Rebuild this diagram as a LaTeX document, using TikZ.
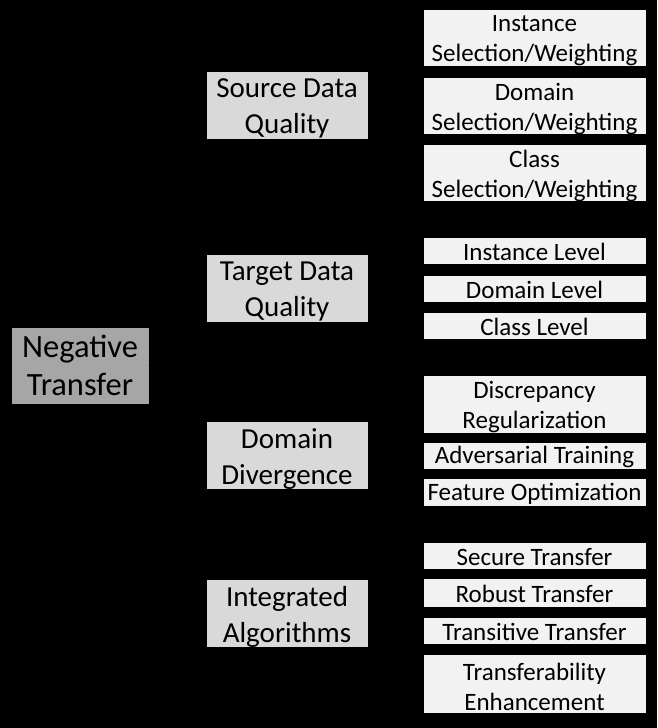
\documentclass[tikz,border=0pt]{standalone}
\usepackage{fontspec}
\setmainfont{Carlito}
\usetikzlibrary{arrows.meta}
\definecolor{rootfill}{HTML}{A6A6A6}
\definecolor{catfill}{HTML}{D9D9D9}
\definecolor{leaffill}{HTML}{F2F2F2}
\tikzset{
  rootbox/.style={fill=rootfill, draw=black, line width=0.6pt, inner sep=0pt, minimum width=138pt, minimum height=77pt, align=center, font=\fontsize{32.5}{38}\selectfont},
  catbox/.style={fill=catfill, draw=black, line width=0.6pt, inner sep=0pt, minimum width=162pt, minimum height=68pt},
  leafbox/.style={fill=leaffill, draw=black, line width=0.6pt, inner sep=0pt, minimum width=223pt},
  cattext/.style={align=center, inner sep=0pt, yshift=-3.5pt, font=\fontsize{29}{36}\selectfont},
  leaftwo/.style={align=center, inner sep=0pt, yshift=-3.5pt, font=\fontsize{25}{30}\selectfont},
  leafone/.style={align=center, inner sep=0pt, yshift=-1.5pt, font=\fontsize{25}{30}\selectfont},
  link/.style={draw=black, line width=1pt, -{Stealth[length=7pt]}}
}
\begin{document}
\begin{tikzpicture}[x=1pt,y=-1pt]
\fill[black] (0,0) rectangle (657,728);
\useasboundingbox (0,0) rectangle (657,728);

\node[rootbox] (nt) at (80,365.5) {Negative\\Transfer};

\node[catbox, label={[cattext]center:{Source Data\\Quality}}] (sdq) at (287,105) {};
\node[catbox, label={[cattext]center:{Target Data\\Quality}}] (tdq) at (287,288) {};
\node[catbox, label={[cattext]center:{Domain\\Divergence}}] (dd) at (287,455.5) {};
\node[catbox, label={[cattext]center:{Integrated\\Algorithms}}] (ia) at (287,613.5) {};

\node[leafbox, minimum height=57pt, label={[leaftwo]center:{Instance\\Selection/Weighting}}] (l1) at (534.5,37.5) {};
\node[leafbox, minimum height=57pt, label={[leaftwo]center:{Domain\\Selection/Weighting}}] (l2) at (534.5,105.5) {};
\node[leafbox, minimum height=57pt, label={[leaftwo]center:{Class\\Selection/Weighting}}] (l3) at (534.5,172.5) {};

\node[leafbox, minimum height=27pt, label={[leafone]center:{Instance Level}}] (l4) at (534.5,250.5) {};
\node[leafbox, minimum height=27pt, label={[leafone]center:{Domain Level}}] (l5) at (534.5,288.5) {};
\node[leafbox, minimum height=27pt, label={[leafone]center:{Class Level}}] (l6) at (534.5,325.5) {};

\node[leafbox, minimum height=58pt, label={[leaftwo]center:{Discrepancy\\Regularization}}] (l7) at (534.5,404) {};
\node[leafbox, minimum height=27pt, label={[leafone]center:{Adversarial Training}}] (l8) at (534.5,455.5) {};
\node[leafbox, minimum height=28pt, label={[leafone]center:{Feature Optimization}}] (l9) at (534.5,492) {};

\node[leafbox, minimum height=27pt, label={[leafone]center:{Secure Transfer}}] (l10) at (534.5,555.5) {};
\node[leafbox, minimum height=29pt, label={[leafone]center:{Robust Transfer}}] (l11) at (534.5,592.5) {};
\node[leafbox, minimum height=27pt, label={[leafone]center:{Transitive Transfer}}] (l12) at (534.5,630.5) {};
\node[leafbox, minimum height=59pt, label={[leaftwo]center:{Transferability\\Enhancement}}] (l13) at (534.5,683.5) {};

\foreach \c in {sdq,tdq,dd,ia}
  \draw[link] (nt.east) -- (\c.west);
\foreach \l in {l1,l2,l3}
  \draw[link] (sdq.east) -- (\l.west);
\foreach \l in {l4,l5,l6}
  \draw[link] (tdq.east) -- (\l.west);
\foreach \l in {l7,l8,l9}
  \draw[link] (dd.east) -- (\l.west);
\foreach \l in {l10,l11,l12,l13}
  \draw[link] (ia.east) -- (\l.west);
\end{tikzpicture}
\end{document}
